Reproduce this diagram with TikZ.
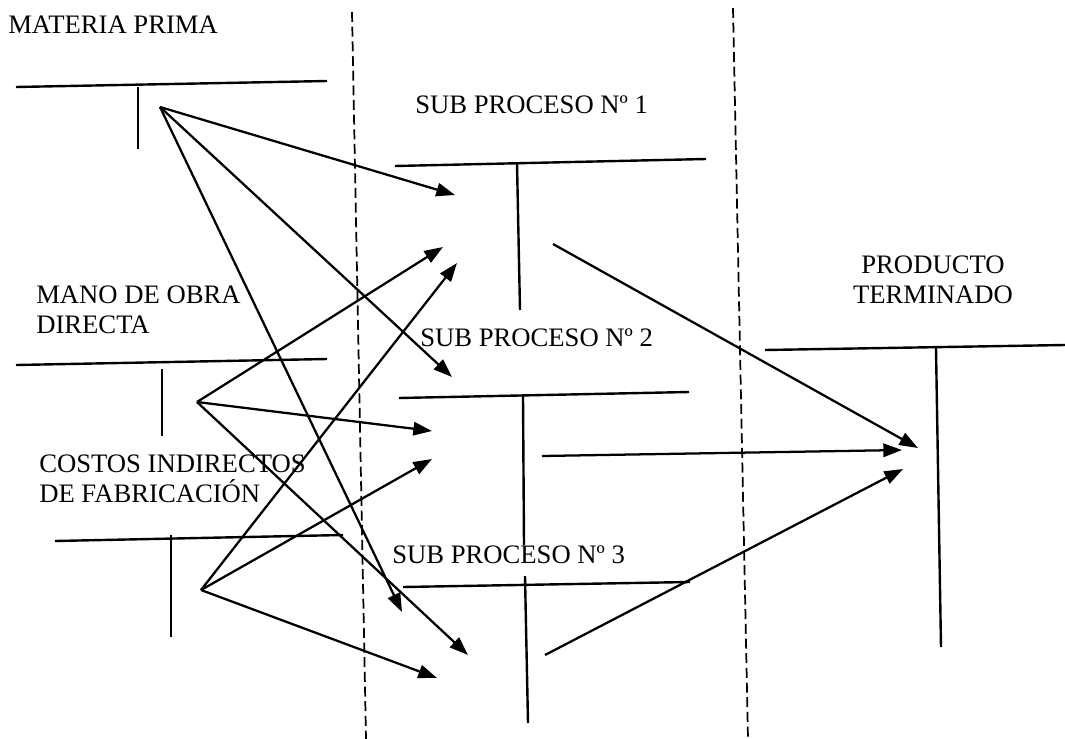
\documentclass[tikz,border=0pt]{standalone}
\usepackage{fontspec}
\setmainfont{Liberation Serif}
\usetikzlibrary{arrows.meta}
\begin{document}
\begin{tikzpicture}[x=0.75pt,y=-0.75pt,
  lbl/.style={inner sep=0pt, font=\fontsize{20}{22.5}\selectfont, align=left, anchor=base west},
  tline/.style={line width=1.8pt},
  flow/.style={-{Triangle[length=14pt,width=10pt]}, line width=1.7pt},
  divider/.style={line width=1.3pt, dash pattern=on 7.5pt off 3.5pt}]
\useasboundingbox (0,0) rectangle (1065,739);
\fill[white] (0,0) rectangle (1065,739);

% labels (base anchor = baseline of the last line)
\node[lbl] (mp) at (8,33) {MATERIA PRIMA};
\node[lbl] (mod) at (36,333) {MANO DE OBRA\\DIRECTA};
\node[lbl] (cif) at (39,502) {COSTOS INDIRECTOS\\DE FABRICACIÓN};
\node[lbl] (sp1) at (415,113) {SUB PROCESO Nº 1};
\node[lbl] (sp2) at (420,346) {SUB PROCESO Nº 2};
\node[lbl] (sp3) at (392,563) {SUB PROCESO Nº 3};
\node[lbl, align=center, anchor=base] (pt) at (933,303) {PRODUCTO\\TERMINADO};

% T accounts
\draw[tline] (16,87) -- (327,81);  \draw[tline] (138,87) -- (138,149);
\draw[tline] (16,365) -- (327,359); \draw[tline] (162,369) -- (162,436);
\draw[tline] (55,541) -- (343,535); \draw[tline] (171,535) -- (171,637);
\draw[tline] (395,166) -- (706,159); \draw[tline] (517,163) -- (520,310);
\draw[tline] (399,398) -- (689,392); \draw[tline] (523,396) -- (524,545);
\draw[tline] (403,587) -- (690,582); \draw[tline] (525,576) -- (528,723);
\draw[tline] (765,350) -- (1065,345); \draw[tline] (936,348) -- (941,647);

% dividers
\draw[divider] (352,12) -- (366,739);
\draw[divider] (733,8) -- (748,739);

% sources and targets
\coordinate (sMP) at (160,107);
\coordinate (sMOD) at (197,402);
\coordinate (sCIF) at (201,590);
\coordinate (a1) at (455,195);
\coordinate (a2) at (443,247);
\coordinate (a3) at (457,263);
\coordinate (b1) at (452,377);
\coordinate (b2) at (432,431);
\coordinate (b3) at (432,459);
\coordinate (c1) at (402,612);
\coordinate (c2) at (468,655);
\coordinate (c3) at (437,678);
\coordinate (o1) at (553,244);
\coordinate (o2) at (542,456);
\coordinate (o3) at (545,655);
\coordinate (t1) at (918,448);
\coordinate (t2) at (902,450);
\coordinate (t3) at (903,469);

\draw[flow] (sMP) -- (a1);
\draw[flow] (sMP) -- (b1);
\draw[flow] (sMP) -- (c1);
\draw[flow] (sMOD) -- (a2);
\draw[flow] (sMOD) -- (b2);
\draw[flow] (sMOD) -- (c2);
\draw[flow] (sCIF) -- (a3);
\draw[flow] (sCIF) -- (b3);
\draw[flow] (sCIF) -- (c3);
\draw[flow] (o1) -- (t1);
\draw[flow] (o2) -- (t2);
\draw[flow] (o3) -- (t3);
\end{tikzpicture}
\end{document}
